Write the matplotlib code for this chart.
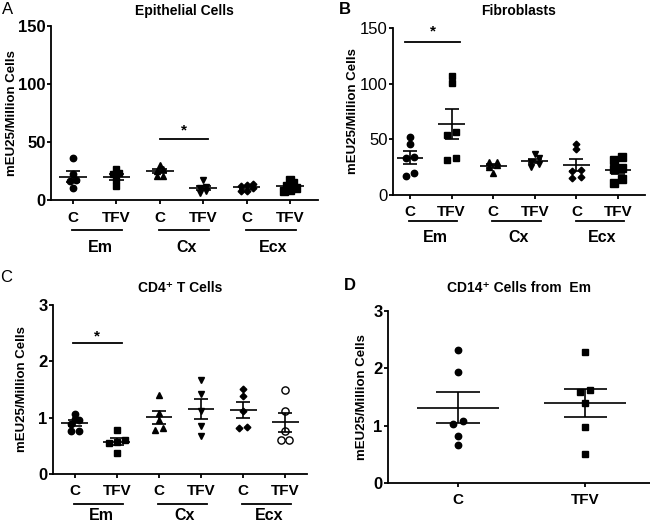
import numpy as np
import matplotlib
matplotlib.use("Agg")
import matplotlib.pyplot as plt
from matplotlib.transforms import offset_copy

plt.rcParams['font.family'] = ['Liberation Sans', 'DejaVu Sans']

cats = ['C', 'TFV', 'C', 'TFV', 'C', 'TFV']
groups = ['Em', 'Cx', 'Ecx']
ylab = 'mEU25/Million Cells'

# panel A - epithelial cells
epi = [
    [36, 22, 17, 16, 10],
    [27, 23, 22, 17, 12],
    [30, 27, 25, 21, 21],
    [17, 11, 10, 8, 6],
    [14, 13, 12, 10, 8, 8],
    [17, 15, 12, 10, 9, 8],
]
# panel B - fibroblasts
fib = [
    [52, 45.5, 34, 33, 17.5, 19.5],
    [107, 101, 57, 54, 33, 31],
    [30, 30, 27, 25, 20],
    [37, 33, 30, 28, 25],
    [45.5, 41, 22, 22.5, 15, 16],
    [34, 31, 24, 23, 14, 11],
]
# panel C - CD4+ T cells
cd4 = [
    [1.07, 0.98, 0.95, 0.88, 0.77, 0.76],
    [0.78, 0.60, 0.57, 0.55, 0.38],
    [1.40, 1.08, 0.95, 0.82, 0.78],
    [1.66, 1.42, 1.12, 0.86, 0.68],
    [1.51, 1.39, 1.12, 0.83, 0.81],
    [1.49, 1.12, 0.77, 0.60, 0.60],
]
# panel D - CD14+ cells from Em
cd14_cats = ['C', 'TFV']
cd14 = [
    [2.32, 1.93, 1.09, 1.03, 0.82, 0.66],
    [2.29, 1.62, 1.59, 1.40, 0.97, 0.51],
]

six_markers = [('o', 4.6, 'k'), ('s', 4.3, 'k'), ('^', 4.8, 'k'),
               ('v', 4.8, 'k'), ('D', 3.4, 'k'), ('s', 5.8, 'k')]

W, H = 650, 523
fig = plt.figure(figsize=(6.5, 5.23), dpi=100)


def add_ax(l, r, t, b):
    return fig.add_axes([l / W, 1 - b / H, (r - l) / W, (b - t) / H])


def spread(vals, thr, step):
    # points that would overlap are laid out in a centred row
    vals = np.asarray(vals, float)
    order = np.argsort(vals)
    offs = np.zeros(len(vals))
    rows = []
    for i in order:
        if rows and vals[i] - vals[rows[-1][0]] < thr:
            rows[-1].append(i)
        else:
            rows.append([i])
    for row in rows:
        n = len(row)
        for k, i in enumerate(row):
            offs[i] = (k - (n - 1) / 2) * step
    return offs


def draw_points(ax, data, markers, thr, step):
    for i, vals in enumerate(data):
        vals = np.asarray(vals, float)
        m, ms, fc = markers[i]
        x = i + spread(vals, thr, step)
        ax.plot(x, vals, ls='none', marker=m, ms=ms, mfc=fc, mec='k',
                mew=1.0, zorder=3)
        mean = vals.mean()
        sem = vals.std(ddof=1) / np.sqrt(len(vals))
        ax.hlines(mean, i - 0.32, i + 0.32, color='k', lw=1.2, zorder=4)
        ax.hlines([mean - sem, mean + sem], i - 0.17, i + 0.17, color='k',
                  lw=1.2, zorder=4)
        ax.vlines(i, mean - sem, mean + sem, color='k', lw=1.2, zorder=4)


def style(ax, ylim, yticks, xlim, labels, ylab_x, bold_y=True, lab_pad=4):
    ax.set_ylim(*ylim)
    ax.set_xlim(*xlim)
    ax.set_yticks(yticks)
    ax.set_xticks(range(len(labels)))
    ax.set_xticklabels(labels, fontsize=11, fontweight='bold')
    for s in ['top', 'right']:
        ax.spines[s].set_visible(False)
    for s in ['left', 'bottom']:
        ax.spines[s].set_linewidth(1.3)
    ax.tick_params(axis='both', width=1.3, direction='out')
    ax.tick_params(axis='x', length=3, pad=lab_pad)
    ax.tick_params(axis='y', labelsize=12, length=3, pad=1)
    for t in ax.get_yticklabels():
        t.set_fontweight('bold' if bold_y else 'normal')
    ax.set_ylabel(ylab, fontsize=9.5, fontweight='bold')
    ax.yaxis.set_label_coords(ylab_x, 0.5)


def group_labels(ax, line_off, text_off):
    tl = offset_copy(ax.get_xaxis_transform(), fig=fig, y=-line_off, units='dots')
    tt = offset_copy(ax.get_xaxis_transform(), fig=fig, y=-text_off, units='dots')
    for g, name in enumerate(groups):
        c0, c1 = 2 * g, 2 * g + 1
        ax.plot([c0 - 0.02, c1 + 0.14], [0, 0], color='k', lw=1.3,
                transform=tl, clip_on=False)
        ax.text((c0 + c1) / 2 + 0.12, 0, name, transform=tt, ha='center',
                va='center', fontsize=11.5, fontweight='bold')


def sig(ax, x0, x1, y, ystar):
    ax.plot([x0, x1], [y, y], color='k', lw=1.3, clip_on=False)
    ax.text((x0 + x1) / 2, ystar, '*', ha='center', va='center',
            fontsize=11, fontweight='bold')


# A
axA = add_ax(51, 318, 26, 200)
draw_points(axA, epi, six_markers, 4.0, 0.14)
style(axA, (0, 150), [0, 50, 100, 150], (-0.507, 5.645), cats, -0.124, lab_pad=5)
group_labels(axA, 30, 48)
sig(axA, 2.0, 3.1, 52.6, 60)
axA.set_title('Epithelial Cells', fontsize=10, fontweight='bold', pad=8)
fig.text(8 / W, 1 - 10 / H, 'A', fontsize=12, ha='center', va='center')

# B
axB = add_ax(393, 645, 28, 195)
draw_points(axB, fib, six_markers, 4.0, 0.2)
style(axB, (0, 150), [0, 50, 100, 150], (-0.41, 5.65), cats, -0.135, bold_y=False)
group_labels(axB, 26, 43)
sig(axB, -0.12, 1.2, 137, 147)
axB.set_title('Fibroblasts', fontsize=10, fontweight='bold', pad=9.4)
fig.text(345 / W, 1 - 10 / H, 'B', fontsize=12, fontweight='bold',
         ha='center', va='center')

# C
cd4_markers = six_markers[:5] + [('o', 5.2, 'w')]
axC = add_ax(53, 307, 305, 474)
draw_points(axC, cd4, cd4_markers, 0.08, 0.2)
style(axC, (0, 3), [0, 1, 2, 3], (-0.52, 5.52), cats, -0.098)
group_labels(axC, 30, 42)
sig(axC, -0.05, 1.12, 2.32, 2.45)
axC.set_title('CD4\u207a T Cells', fontsize=10, fontweight='bold', pad=9.4)
fig.text(6 / W, 1 - 277 / H, 'C', fontsize=12, ha='center', va='center')

# D
axD = add_ax(388, 650, 311, 483)
draw_points(axD, cd14, [('o', 4.6, 'k'), ('s', 4.3, 'k')], 0.1, 0.08)
style(axD, (0, 3), [0, 1, 2, 3], (-0.55, 1.51), cd14_cats, -0.076)
axD.set_title('CD14\u207a Cells from  Em', fontsize=10, fontweight='bold', pad=14)
fig.text(350 / W, 1 - 285 / H, 'D', fontsize=12, fontweight='bold',
         ha='center', va='center')

fig.savefig('out.png', dpi=100)
